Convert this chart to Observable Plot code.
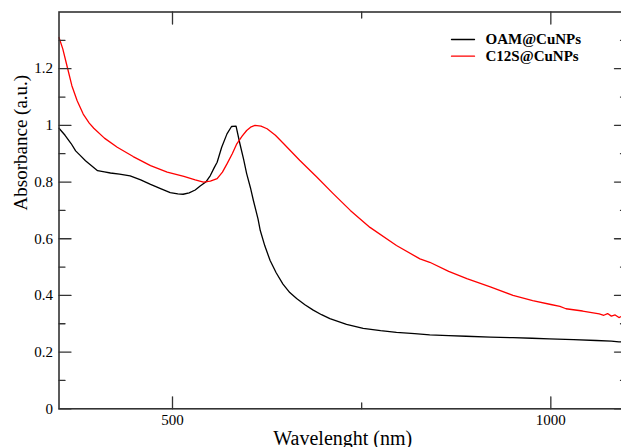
<!DOCTYPE html>
<html>
<head>
<meta charset="utf-8">
<script src="https://cdn.jsdelivr.net/npm/d3@7"></script>
<script src="https://cdn.jsdelivr.net/npm/@observablehq/plot@0.6"></script>
<style>
  html, body { margin: 0; padding: 0; overflow: hidden; background: #fff; }
  #chart { width: 621px; height: 447px; overflow: hidden; }
  #chart svg { font-family: "Liberation Serif", "DejaVu Serif", serif; display: block; }
</style>
</head>
<body>
<div id="chart"></div>
<script>
// OAM@CuNPs spectrum (black)
const oamWavelength = [350,358,366,372,378,385,391,401,410,418,430,444,458,471,485,497,507,514,522,530,537,544,550,555,559,565,572,578,584,589,594,598,603,607,613,616,622,629,637,646,655,664,675,686,697,708,730,752,775,796,820,840,865,888,920,950,975,998,1030,1060,1080,1090,1100];
const oamAbsorbance = [0.99,0.965,0.936,0.91,0.894,0.875,0.862,0.84,0.836,0.832,0.828,0.822,0.808,0.792,0.776,0.763,0.758,0.757,0.762,0.772,0.787,0.80,0.823,0.85,0.87,0.923,0.97,0.996,0.997,0.936,0.88,0.83,0.78,0.734,0.67,0.629,0.575,0.523,0.48,0.44,0.41,0.389,0.367,0.348,0.332,0.318,0.298,0.284,0.276,0.27,0.265,0.261,0.258,0.256,0.253,0.251,0.249,0.247,0.244,0.241,0.239,0.236,0.236];

// C12S@CuNPs spectrum (red)
const c12sWavelength = [350,355,361,367,374,382,390,396,410,427,448,471,493,515,530,541,550,559,566,572,579,585,592,598,604,609,617,625,636,647,668,691,712,735,761,796,827,840,865,889,920,950,976,1000,1012,1020,1042,1064,1070,1075,1080,1085,1090,1095,1100];
const c12sAbsorbance = [1.31,1.27,1.205,1.14,1.087,1.04,1.008,0.99,0.955,0.923,0.89,0.858,0.835,0.82,0.808,0.80,0.803,0.812,0.835,0.864,0.90,0.935,0.962,0.982,0.995,1.0,0.997,0.988,0.965,0.935,0.877,0.817,0.76,0.70,0.64,0.576,0.529,0.517,0.485,0.459,0.43,0.40,0.382,0.368,0.361,0.353,0.345,0.335,0.330,0.336,0.327,0.331,0.322,0.328,0.324];

const seriesNames = ["OAM@CuNPs", "C12S@CuNPs"];
const seriesColors = ["#000000", "#ff0000"];

const xMajorTicks = [500, 1000];
const xMinorTicks = [750];
const yMajorTicks = [0, 0.2, 0.4, 0.6, 0.8, 1, 1.2];
const yMinorTicks = [0.1, 0.3, 0.5, 0.7, 0.9, 1.1, 1.3];

const xLabel = "Wavelenght (nm)";
const yLabel = "Absorbance (a.u.)";

const serif = "'Liberation Serif', 'DejaVu Serif', serif";

const oam = oamWavelength.map((w, i) => ({w, a: oamAbsorbance[i]}));
const c12s = c12sWavelength.map((w, i) => ({w, a: c12sAbsorbance[i]}));

const lineShape = {
  draw(context, l) { context.moveTo(0, 0); context.lineTo(0, -l); }
};
const frameColor = "#333";
function ticks(data, channel, anchor, rotate, length) {
  const opts = {frameAnchor: anchor, rotate, length, anchor: "start", shape: lineShape, stroke: frameColor, strokeWidth: 1.3};
  opts[channel] = d => d;
  return Plot.vector(data, opts);
}

const legendMarks = seriesNames.flatMap((name, i) => [
  Plot.vector([name], {frameAnchor: "top-right", dx: -152, dy: 27.5 + i * 16.7, length: 23, rotate: 270, anchor: "start", shape: lineShape, stroke: seriesColors[i], strokeWidth: 1.3}),
  Plot.text([name], {text: d => d, frameAnchor: "top-right", dx: -141, dy: 27.5 + i * 16.7, textAnchor: "start", lineAnchor: "middle", fontSize: 15, fontWeight: "bold", fontFamily: serif, fill: "#000"})
]);

const chart = Plot.plot({
  width: 621,
  height: 447,
  marginLeft: 58.5,
  marginRight: -5,
  marginTop: 11.5,
  marginBottom: 38.7,
  style: {fontFamily: serif, color: "#000", background: "#fff", overflow: "hidden"},
  x: {domain: [350, 1100]},
  y: {domain: [0, 1.4]},
  marks: [
    Plot.axisX({ticks: xMajorTicks, tickSize: 0, tickPadding: 6, fontSize: 15, fontFamily: serif, label: null, tickFormat: d => String(d)}),
    Plot.axisY({ticks: yMajorTicks, tickSize: 0, tickPadding: 6, fontSize: 15, fontFamily: serif, label: null, tickFormat: d => String(d)}),
    Plot.line(oam, {x: "w", y: "a", stroke: seriesColors[0], strokeWidth: 1.3}),
    Plot.line(c12s, {x: "w", y: "a", stroke: seriesColors[1], strokeWidth: 1.3}),
    ticks(xMajorTicks, "x", "bottom", 0, 12),
    ticks(xMinorTicks, "x", "bottom", 0, 6),
    ticks(xMajorTicks, "x", "top", 180, 12),
    ticks(xMinorTicks, "x", "top", 180, 6),
    ticks(yMajorTicks, "y", "left", 90, 12),
    ticks(yMinorTicks, "y", "left", 90, 6),
    ticks(yMajorTicks, "y", "right", 270, 12),
    ticks(yMinorTicks, "y", "right", 270, 6),
    Plot.frame({stroke: frameColor, strokeWidth: 1.6}),
    Plot.text([xLabel], {text: d => d, frameAnchor: "bottom", dy: 30, lineAnchor: "middle", fontSize: 20, fontFamily: serif, fill: "#000"}),
    Plot.text([yLabel], {text: d => d, frameAnchor: "left", dx: -38, rotate: -90, lineAnchor: "middle", fontSize: 19, fontFamily: serif, fill: "#000"}),
    ...legendMarks
  ]
});
document.getElementById("chart").appendChild(chart);
</script>
</body>
</html>
